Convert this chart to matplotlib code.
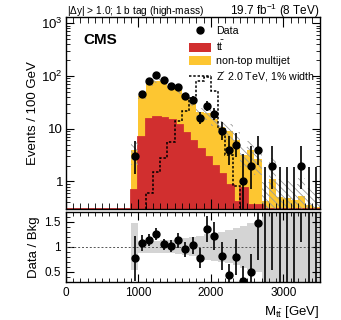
import numpy as np
import matplotlib
matplotlib.use("Agg")
import matplotlib.pyplot as plt
from matplotlib.lines import Line2D
from matplotlib.patches import Patch
from matplotlib.ticker import FixedLocator, MultipleLocator, NullFormatter, FuncFormatter, LogLocator

plt.rcParams['font.family'] = ['Liberation Sans', 'DejaVu Sans']
plt.rcParams['mathtext.fontset'] = 'custom'
plt.rcParams['mathtext.rm'] = 'Liberation Sans'
plt.rcParams['mathtext.it'] = 'Liberation Sans:italic'
plt.rcParams['mathtext.bf'] = 'Liberation Sans:bold'
plt.rcParams['hatch.linewidth'] = 0.6

# histogram binning, 100 GeV bins
edges = np.arange(0, 3600, 100)

# expected ttbar per bin
ttbar = [0, 0, 0, 0, 0, 0, 0, 0, 0,
         0.68, 7.0, 15.5, 17.0, 16.0, 14.5, 12.0, 8.3, 5.9, 4.1, 2.9, 2.0, 1.4,
         0.84, 0.41, 0.75, 0.35, 0.35, 0.10, 0.08, 0.05, 0.05, 0.03, 0.03, 0.02, 0.02]
# non-top multijet per bin
multijet = [0, 0, 0, 0, 0, 0, 0, 0, 0,
            3.2, 35.0, 56.5, 65.0, 64.0, 50.5, 42.0, 34.7, 28.1, 16.4, 17.1, 13.6, 9.6,
            8.3, 5.8, 2.45, 3.65, 2.35, 0.32, 1.02, 0.45, 0.43, 0.42, 0.50, 0.34, 0.31]
# relative background uncertainty per bin
bkg_unc = [0, 0, 0, 0, 0, 0, 0, 0, 0,
           0.47, 0.12, 0.12, 0.12, 0.13, 0.13, 0.15, 0.17, 0.19, 0.22, 0.26, 0.28, 0.30,
           0.33, 0.37, 0.42, 0.47, 0.50, 1.3, 1.5, 1.2, 1.1, 1.0, 1.2, 1.1, 0.9]

# data (bin centres 950 ... 3450 GeV)
data_mass = np.arange(950, 3500, 100)
data = [3, 45, 82, 103, 84, 66, 61, 41, 35, 16, 27, 19, 9, 4, 5, 1, 2, 4, 0, 2, 0, 0, 0, 2, 0, 0]

# Z' 2.0 TeV signal, 1100 - 2400 GeV
sig_edges = np.arange(1100, 2500, 100)
signal = [0.59, 1.5, 2.8, 5.5, 13.7, 22, 38, 80, 96, 52, 10, 3.2, 0.82]

red = '#d12f2f'
yellow = '#fdc631'
ymin, ymax = 0.3, 1300
floor = 1e-3

ttbar = np.array(ttbar)
multijet = np.array(multijet)
bkg_unc = np.array(bkg_unc)
data = np.array(data, dtype=float)
total = ttbar + multijet

# poisson (Gehrels) intervals for data
lo = np.where(data > 0, data * (1 - 1 / (9 * np.maximum(data, 1)) - 1 / (3 * np.sqrt(np.maximum(data, 1)))) ** 3, 0)
hi = data + 1 + np.sqrt(data + 0.75)

fig = plt.figure(figsize=(3.41, 3.20), dpi=100)
ax = fig.add_axes([0.193, 0.347, 0.744, 0.599])
rax = fig.add_axes([0.193, 0.119, 0.744, 0.219])

ax.set_yscale('log')
ax.stairs(np.maximum(ttbar, floor), edges, baseline=floor, fill=True, color=red, zorder=1)
ax.stairs(np.maximum(ttbar, ymin), edges, baseline=None, color=red, linewidth=2, zorder=1.1)
ax.stairs(np.maximum(total, floor), edges, baseline=np.maximum(ttbar, floor), fill=True,
          color=yellow, zorder=1)
ax.stairs(np.maximum(total * (1 + bkg_unc), floor), edges,
          baseline=np.maximum(total * (1 - bkg_unc), floor), fill=True, facecolor='none',
          edgecolor='#9a9a9a', hatch='\\\\\\\\\\', linewidth=0, zorder=1.2)
ax.stairs(signal, sig_edges, baseline=ymin, color='black', linewidth=1.1,
          linestyle=(0, (1.6, 1.2)), zorder=2)

pos = data > 0
ax.errorbar(data_mass, np.maximum(data, floor), yerr=[data - lo, hi - data], fmt='none',
            ecolor='black', elinewidth=1.2, zorder=3)
ax.plot(data_mass[pos], data[pos], 'o', color='black', markersize=5, zorder=4)

ax.set_xlim(0, 3500)
ax.set_ylim(ymin, ymax)
ax.set_ylabel('Events / 100 GeV', fontsize=9.5, labelpad=2)


def log_fmt(v, p):
    if v == 1:
        return '1'
    if v == 10:
        return '10'
    return r'$10^{%d}$' % round(np.log10(v))


ax.yaxis.set_major_locator(FixedLocator([1, 10, 100, 1000]))
ax.yaxis.set_major_formatter(FuncFormatter(log_fmt))
ax.yaxis.set_minor_locator(LogLocator(subs=np.arange(2, 10)))
ax.yaxis.set_minor_formatter(NullFormatter())
ax.xaxis.set_major_locator(MultipleLocator(1000))
ax.xaxis.set_minor_locator(MultipleLocator(100))
ax.tick_params(which='both', direction='in', top=True, right=True, labelbottom=False)
ax.tick_params(axis='x', which='major', length=7)
ax.tick_params(axis='x', which='minor', length=4)
ax.tick_params(axis='y', which='major', length=6, labelsize=9.5, pad=2)
ax.tick_params(axis='y', which='minor', length=3)

ax.text(0.07, 0.88, 'CMS', transform=ax.transAxes, fontsize=11, fontweight='bold', va='center')
fig.text(0.196, 0.965, r'|$\Delta$y| > 1.0; 1 b tag (high-mass)', fontsize=7.3, va='center')
fig.text(0.938, 0.965, r'19.7 fb$^{-1}$ (8 TeV)', fontsize=8.5, va='center', ha='right')

handles = [Line2D([], [], marker='o', color='black', linestyle='none', markersize=5),
           Patch(facecolor=red, edgecolor='none'),
           Patch(facecolor=yellow, edgecolor='none'),
           Line2D([], [], color='black', linewidth=1.1, linestyle=(0, (1.6, 1.2)))]
labels = ['Data', r't$\bar{\mathrm{t}}$', 'non-top multijet', "Z$'$ 2.0 TeV, 1% width"]
ax.legend(handles, labels, loc='upper left', bbox_to_anchor=(0.47, 0.975), frameon=False,
          fontsize=7.7, handlelength=2.0, handleheight=0.9, handletextpad=0.5,
          labelspacing=0.25, borderaxespad=0)

# ratio panel
ratio = data / total[9:]
rel = bkg_unc[9:]
rax.stairs(1 + rel, edges[9:], baseline=1 - rel, fill=True, color='#d4d4d4', zorder=1)
rax.axhline(1, color='#555555', linestyle=(0, (2, 2)), linewidth=0.7, zorder=2)
rerr = np.where(data > 0, np.sqrt(data), hi) / total[9:]
rax.errorbar(data_mass, ratio, yerr=[np.minimum(rerr, ratio), rerr], fmt='none', ecolor='black',
             elinewidth=1.2, zorder=3)
rax.plot(data_mass[pos], ratio[pos], 'o', color='black', markersize=5, zorder=4)
rax.set_xlim(0, 3500)
rax.set_ylim(0.3, 1.7)
rax.yaxis.set_major_locator(FixedLocator([0.5, 1, 1.5]))
rax.yaxis.set_major_formatter(FuncFormatter(lambda v, p: '%g' % v))
rax.yaxis.set_minor_locator(MultipleLocator(0.1))
rax.xaxis.set_major_locator(MultipleLocator(1000))
rax.xaxis.set_minor_locator(MultipleLocator(100))
rax.tick_params(which='both', direction='in', top=True, right=True, labelsize=8.5)
rax.tick_params(which='major', length=6)
rax.tick_params(which='minor', length=3)
rax.set_ylabel('Data / Bkg', fontsize=9.5, labelpad=3)
rax.set_xlabel(r'M$_{\mathrm{t\bar{t}}}$ [GeV]', fontsize=9.5, loc='right', labelpad=4)

for a in (ax, rax):
    for s in a.spines.values():
        s.set_linewidth(1.0)

fig.savefig('out.png', dpi=100)
